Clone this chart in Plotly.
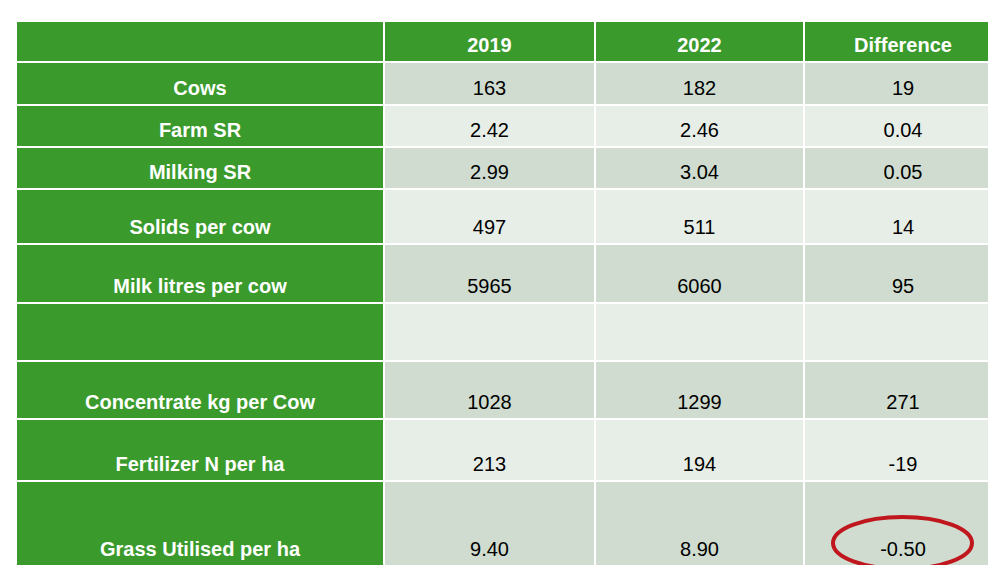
import plotly.graph_objects as go

columns = ["", "2019", "2022", "Difference"]
row_labels = ["Cows", "Farm SR", "Milking SR", "Solids per cow", "Milk litres per cow", "",
              "Concentrate kg per Cow", "Fertilizer N per ha", "Grass Utilised per ha"]
values_2019 = ["163", "2.42", "2.99", "497", "5965", "", "1028", "213", "9.40"]
values_2022 = ["182", "2.46", "3.04", "511", "6060", "", "1299", "194", "8.90"]
difference = ["19", "0.04", "0.05", "14", "95", "", "271", "-19", "-0.50"]

# layout in pixel units
col_edges = [0, 368, 579, 788, 986]
row_edges = [5, 46, 89, 131, 173, 228, 287, 345, 403, 465, 550]

GREEN = "#3A9A2C"
DARK = "#CFDCCF"
LIGHT = "#E7EEE7"

fig = go.Figure()
shapes = []
xs, ys, texts, fonts = [], [], [], []

for r in range(len(row_edges) - 1):
    y0, y1 = row_edges[r], row_edges[r + 1]
    for c in range(4):
        x0, x1 = col_edges[c], col_edges[c + 1]
        if r == 0 or c == 0:
            fill = GREEN
        else:
            fill = DARK if r % 2 == 1 else LIGHT
        shapes.append(dict(type="rect", x0=x0 + 1, x1=x1 - 1, y0=y0 + 1, y1=y1 - 1,
                           fillcolor=fill, line=dict(width=0), layer="below"))
        if r == 0:
            t = columns[c]
        else:
            t = [row_labels, values_2019, values_2022, difference][c][r - 1]
        if t:
            xs.append((x0 + x1) / 2)
            ys.append(y1 - 15)
            texts.append(f"<b>{t}</b>" if (r == 0 or c == 0) else t)
            fonts.append("white" if (r == 0 or c == 0) else "black")

shapes.append(dict(type="circle", x0=817, x1=956, y0=501, y1=553,
                   line=dict(color="#C0161E", width=4)))

fig.add_trace(go.Scatter(x=xs, y=ys, text=texts, mode="text", textposition="middle center",
                         textfont=dict(family="Liberation Sans, Arial", size=20, color=fonts),
                         hoverinfo="skip", showlegend=False))

fig.update_layout(width=996, height=565, margin=dict(l=0, r=0, t=0, b=0),
                  plot_bgcolor="white", paper_bgcolor="white", shapes=shapes)
# page body adds an 8px offset, so shift the view to compensate
fig.update_xaxes(range=[-8, 988], visible=False, fixedrange=True)
fig.update_yaxes(range=[557, -8], visible=False, fixedrange=True)

fig.write_html("out.html")
